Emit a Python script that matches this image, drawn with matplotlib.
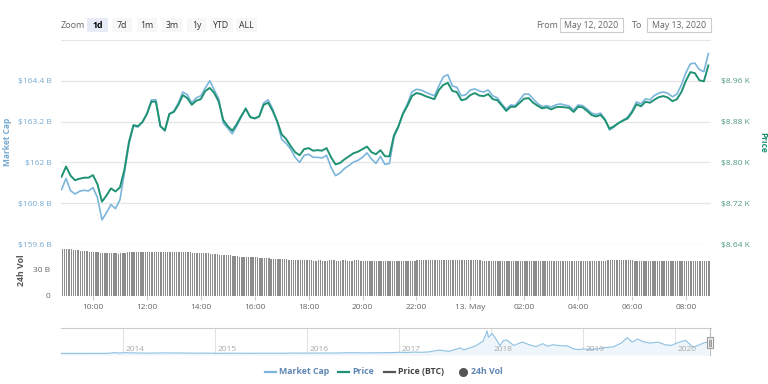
import numpy as np
import matplotlib
matplotlib.use('Agg')
import matplotlib.pyplot as plt
from matplotlib.patches import Rectangle
from matplotlib.lines import Line2D
import pandas as pd

plt.rcParams['font.family'] = ['Open Sans', 'DejaVu Sans']

# ---------------- data ----------------
start_hour = 8 + 50 / 60          # 12 May 08:50
price_step_h = 1 / 6              # 10 minutes
vol_step_h = 1 / 12               # 5 minutes

price = [8772, 8792, 8774, 8765, 8768, 8770, 8770, 8775, 8757, 8723,
         8735, 8749, 8743, 8751, 8786, 8840, 8873, 8871, 8879, 8895,
         8919, 8919, 8871, 8863, 8895, 8899, 8913, 8932, 8926, 8913,
         8921, 8924, 8940, 8946, 8936, 8919, 8883, 8871, 8862, 8875,
         8891, 8905, 8889, 8886, 8890, 8913, 8917, 8901, 8881, 8855,
         8846, 8832, 8820, 8814, 8826, 8828, 8823, 8824, 8823, 8828,
         8810, 8796, 8799, 8806, 8812, 8818, 8821, 8826, 8831, 8820,
         8816, 8824, 8812, 8812, 8853, 8871, 8895, 8911, 8930, 8936,
         8934, 8930, 8927, 8924, 8942, 8952, 8956, 8940, 8938, 8922,
         8924, 8932, 8936, 8931, 8930, 8934, 8924, 8922, 8912, 8901,
         8909, 8909, 8917, 8925, 8926, 8917, 8911, 8906, 8908, 8904,
         8908, 8909, 8908, 8907, 8899, 8909, 8908, 8901, 8893, 8890,
         8893, 8883, 8866, 8871, 8877, 8882, 8886, 8898, 8914, 8910,
         8919, 8917, 8923, 8928, 8930, 8927, 8920, 8924, 8938, 8960,
         8977, 8975, 8961, 8959, 8990]

market_cap = [161.20, 161.53, 161.17, 161.07, 161.15, 161.18, 161.16, 161.26, 160.96, 160.31,
              160.52, 160.76, 160.64, 160.90, 161.70, 162.53, 163.07, 163.04, 163.19, 163.42,
              163.84, 163.84, 163.07, 162.92, 163.42, 163.51, 163.75, 164.07, 163.99, 163.75,
              163.90, 163.96, 164.19, 164.40, 164.13, 163.87, 163.16, 163.01, 162.84, 163.07,
              163.33, 163.60, 163.33, 163.30, 163.35, 163.75, 163.84, 163.57, 163.19, 162.68,
              162.56, 162.39, 162.15, 162.00, 162.21, 162.24, 162.15, 162.15, 162.13, 162.21,
              161.85, 161.61, 161.69, 161.82, 161.91, 162.01, 162.06, 162.15, 162.28, 162.10,
              161.97, 162.18, 161.94, 161.97, 162.74, 163.04, 163.45, 163.72, 164.07, 164.15,
              164.13, 164.07, 164.01, 163.96, 164.25, 164.52, 164.58, 164.25, 164.21, 163.96,
              163.99, 164.13, 164.16, 164.10, 164.07, 164.13, 163.96, 163.90, 163.72, 163.57,
              163.69, 163.67, 163.84, 164.01, 164.01, 163.87, 163.73, 163.64, 163.67, 163.63,
              163.69, 163.72, 163.69, 163.66, 163.54, 163.69, 163.67, 163.57, 163.45, 163.41,
              163.45, 163.27, 162.95, 163.04, 163.16, 163.24, 163.33, 163.51, 163.78, 163.72,
              163.87, 163.84, 163.97, 164.04, 164.07, 164.03, 163.93, 164.01, 164.28, 164.64,
              164.90, 164.92, 164.73, 164.67, 165.20]

volume_24h = [52.2, 52.0, 52.1, 51.9, 51.7, 51.3,
              50.9, 50.7, 50.5, 50.3, 50.0, 49.7,
              49.3, 49.0, 48.8, 48.6, 48.4, 48.2, 48.1, 47.9,
              47.7, 47.5, 47.4, 47.3, 47.3, 47.2, 47.3,
              47.9, 48.3, 48.5,
              48.6, 48.6, 48.7, 48.7, 48.6, 48.6, 48.7, 48.7, 48.7, 48.6,
              48.6, 48.6, 48.7, 48.7, 48.7, 48.6, 48.6, 48.6, 48.6, 48.7,
              48.7, 48.6, 48.6, 48.6, 48.6, 48.5, 48.5, 48.5,
              47.6, 47.5, 47.5, 47.4, 47.4, 47.4, 47.3, 47.3, 47.2,
              46.6, 46.4, 46.2, 46.1, 46.0, 45.9, 45.8, 45.6, 45.3,
              44.4, 44.2, 44.0, 43.8, 43.6, 43.5, 43.4, 43.3, 43.2, 43.1, 43.0, 42.9,
              42.2, 42.0, 41.9, 41.8, 41.7, 41.6, 41.5, 41.4, 41.3, 41.2, 41.1, 41.0, 40.9,
              40.4, 40.3, 40.2, 40.1, 40.1, 40.0, 40.0, 39.9, 39.9,
              39.5, 39.5, 39.4, 39.4, 39.5, 39.5, 39.4, 39.4, 39.4, 39.5,
              39.5, 39.5, 39.4, 39.4, 39.4, 39.5, 39.5, 39.4, 39.4, 39.4,
              39.5, 39.5, 39.5, 39.4, 39.4, 39.3, 39.3, 39.4, 39.4, 39.3,
              39.3, 39.3, 39.2, 39.2,
              39.1, 39.1, 39.0, 39.0, 39.1, 39.1, 39.2, 39.2, 39.2, 39.3,
              39.3, 39.3, 39.4, 39.4, 39.5,
              39.6, 39.6, 39.7, 39.7, 39.6, 39.6, 39.7, 39.7, 39.7, 39.6,
              39.6, 39.6, 39.7, 39.7, 39.6, 39.6, 39.6, 39.7, 39.7, 39.6,
              39.6, 39.5, 39.5, 39.6, 39.6, 39.5, 39.5, 39.5, 39.4, 39.4,
              39.3, 39.3, 39.3, 39.2, 39.2, 39.3, 39.3, 39.3, 39.2, 39.2,
              39.3, 39.3, 39.3, 39.3, 39.2, 39.2, 39.2, 39.3, 39.3, 39.3,
              39.2, 39.2, 39.2, 39.3, 39.3, 39.3, 39.2, 39.2, 39.3, 39.3,
              39.3, 39.2, 39.2, 39.2, 39.3, 39.3, 39.3, 39.2, 39.2, 39.2,
              39.3, 39.3, 39.3, 39.2, 39.2, 39.3, 39.3, 39.3, 39.2, 39.2,
              39.3, 39.3, 39.3, 39.4, 39.5, 39.7, 39.9,
              40.2, 40.3, 40.4, 40.5, 40.5, 40.4, 40.3, 40.2, 40.0,
              39.1, 39.0, 39.0, 39.0, 39.1, 39.1, 39.1, 39.0, 39.0, 39.0,
              39.1, 39.1, 39.1, 39.0, 39.0, 39.0, 39.1, 39.1, 39.0, 39.0,
              39.0, 39.1, 39.1, 39.1, 39.0, 39.0, 39.0, 39.1, 39.1, 39.1,
              39.0, 39.0, 39.1, 39.1]

time_ticks = [10, 12, 14, 16, 18, 20, 22, 24, 26, 28, 30, 32]
time_labels = ['10:00', '12:00', '14:00', '16:00', '18:00', '20:00',
               '22:00', '13. May', '02:00', '04:00', '06:00', '08:00']

mcap_ticks = [159.6, 160.8, 162.0, 163.2, 164.4]
mcap_labels = ['$159.6 B', '$160.8 B', '$162 B', '$163.2 B', '$164.4 B']
price_ticks = [8640, 8720, 8800, 8880, 8960]
price_labels = ['$8.64 K', '$8.72 K', '$8.80 K', '$8.88 K', '$8.96 K']
vol_ticks = [0, 30]
vol_labels = ['0', '30 B']

nav_dates = ['2013-04-28', '2013-06-01', '2013-07-01', '2013-08-01', '2013-09-01', '2013-10-01',
             '2013-11-01', '2013-11-30', '2013-12-18', '2014-01-05', '2014-02-01', '2014-03-01',
             '2014-04-10', '2014-05-01', '2014-06-03', '2014-07-01', '2014-08-01', '2014-09-01',
             '2014-10-01', '2014-11-01', '2014-12-01', '2015-01-14', '2015-02-01', '2015-03-01',
             '2015-04-01', '2015-05-01', '2015-06-01', '2015-07-01', '2015-08-01', '2015-09-01',
             '2015-10-01', '2015-11-04', '2015-12-01', '2016-01-01', '2016-02-01', '2016-03-01',
             '2016-04-01', '2016-05-01', '2016-06-17', '2016-07-01', '2016-08-01', '2016-09-01',
             '2016-10-01', '2016-11-01', '2016-12-01', '2017-01-04', '2017-02-01', '2017-03-03',
             '2017-04-01', '2017-05-01', '2017-05-25', '2017-06-11', '2017-07-16', '2017-08-01',
             '2017-09-01', '2017-09-15', '2017-10-01', '2017-11-01', '2017-12-01', '2017-12-17',
             '2017-12-22', '2018-01-06', '2018-01-20', '2018-02-06', '2018-02-20', '2018-03-05',
             '2018-04-01', '2018-05-05', '2018-06-01', '2018-06-29', '2018-07-25', '2018-08-14',
             '2018-09-04', '2018-10-01', '2018-11-01', '2018-11-25', '2018-12-15', '2019-01-01',
             '2019-02-07', '2019-03-01', '2019-04-02', '2019-05-01', '2019-06-01', '2019-06-26',
             '2019-07-16', '2019-08-06', '2019-08-29', '2019-09-24', '2019-10-26', '2019-11-25',
             '2019-12-18', '2020-01-14', '2020-02-13', '2020-03-12', '2020-03-31', '2020-04-29',
             '2020-05-13']
nav_mcap = [1.5, 1.4, 1.0, 1.2, 1.7, 1.5,
            2.4, 12.5, 6.5, 11, 10, 7,
            4.5, 5.5, 8.3, 8, 7.6, 6.5,
            5.0, 4.4, 5.2, 2.4, 3.2, 3.6,
            3.5, 3.3, 3.2, 3.8, 4.2, 3.4,
            3.5, 6.5, 5.4, 6.5, 5.6, 6.7,
            6.4, 7, 11.5, 10.5, 9.2, 9.3,
            9.8, 11.7, 12.4, 18, 15.5, 20.5,
            17.6, 23, 40, 49, 31, 45,
            80, 53, 72, 108, 180, 326,
            235, 290, 215, 115, 190, 195,
            116, 166, 128, 100, 142, 106,
            127, 114, 110, 65, 57, 66,
            60, 67, 87, 95, 150, 230,
            165, 210, 170, 150, 165, 125,
            118, 160, 190, 90, 116, 160,
            160]
nav_years = [2014, 2015, 2016, 2017, 2018, 2019, 2020]

zoom_buttons = ['1d', '7d', '1m', '3m', '1y', 'YTD', 'ALL']
date_from, date_to = 'May 12, 2020', 'May 13, 2020'
legend_names = ['Market Cap', 'Price', 'Price (BTC)', '24h Vol']

# ---------------- style ----------------
W, H = 768, 384
C_MCAP = '#7cb5dc'
C_PRICE = '#1f9273'
C_MCAP_TXT = '#76a9d0'
C_PRICE_TXT = '#4f9a80'
C_GRID = '#e6e6e6'
C_BAR = '#8c8c8c'
C_TXT = '#666666'

fig = plt.figure(figsize=(W / 100, H / 100), dpi=100)


def rect(x0, y0, x1, y1):
    return [x0 / W, 1 - y1 / H, (x1 - x0) / W, (y1 - y0) / H]


def fx(x):
    return x / W


def fy(y):
    return 1 - y / H


X0, X1 = 61, 711
px_per_h = 26.95
t_left = 10 - (93 - X0) / px_per_h
t_right = t_left + (X1 - X0) / px_per_h

# main price / market-cap axes
ax = fig.add_axes(rect(X0, 40, X1, 244))
ax2 = ax.twinx()
for a in (ax, ax2):
    for s in a.spines.values():
        s.set_visible(False)
    a.set_xlim(t_left, t_right)
    a.set_xticks([])
ax.set_ylim(159.6, 165.6)
ax2.set_ylim(8640, 9040)
for v in mcap_ticks + [165.6]:
    ax.axhline(v, color=C_GRID, lw=0.9, zorder=0)
ax.set_yticks(mcap_ticks, mcap_labels)
ax.tick_params(axis='y', length=0, pad=6.5, labelsize=6, labelcolor=C_MCAP_TXT)
ax2.set_yticks(price_ticks, price_labels)
ax2.tick_params(axis='y', length=0, pad=7.5, labelsize=6, labelcolor=C_PRICE_TXT)

t_price = start_hour + np.arange(len(price)) * price_step_h
t_mcap = start_hour + np.arange(len(market_cap)) * price_step_h
ax.plot(t_mcap, market_cap, color=C_MCAP, lw=1.2, zorder=3)
ax2.plot(t_price, price, color=C_PRICE, lw=1.4, zorder=4)

fig.text(fx(8), fy(142), 'Market Cap', rotation=90, ha='center', va='center',
         fontsize=6, fontweight='bold', color=C_MCAP_TXT)
fig.text(fx(763), fy(142), 'Price', rotation=270, ha='center', va='center',
         fontsize=6, fontweight='bold', color=C_PRICE)

# volume axes
axv = fig.add_axes(rect(X0, 244, X1, 296))
for s in axv.spines.values():
    s.set_visible(False)
t_vol = start_hour + np.arange(len(volume_24h)) * vol_step_h
axv.bar(t_vol, volume_24h, width=vol_step_h * 0.6, color=C_BAR, align='edge', lw=0)
axv.set_xlim(t_left, t_right)
axv.set_ylim(0, 57.8)
axv.set_yticks(vol_ticks, vol_labels)
axv.tick_params(axis='y', length=0, pad=8, labelsize=6, labelcolor=C_TXT)
axv.set_xticks(time_ticks, time_labels)
axv.tick_params(axis='x', length=3, width=0.8, color='#cccccc', pad=2.5,
                labelsize=6, labelcolor=C_TXT)
fig.text(fx(22), fy(270), '24h Vol', rotation=90, ha='center', va='center',
         fontsize=6.3, fontweight='bold', color='#555555')

# navigator
axn = fig.add_axes(rect(X0, 328, X1, 355))
for k, s in axn.spines.items():
    s.set_visible(k == 'top')
axn.spines['top'].set_color('#cccccc')
axn.spines['top'].set_linewidth(0.8)
nd = pd.to_datetime(nav_dates)
nav_x = nd.year + (nd.dayofyear - 1) / 365.25
axn.set_xlim(2014 - (123 - X0) / 92.0, 2014 + (X1 - 123) / 92.0)
axn.set_ylim(-22, 370)
axn.fill_between(nav_x, nav_mcap, -22, color='#eef5fb', lw=0)
axn.plot(nav_x, nav_mcap, color='#8cc0e2', lw=0.8)
for yr in nav_years:
    axn.axvline(yr, color='#e3e3e3', lw=0.8, zorder=0)
    axn.text(yr + 0.03, 0.2, str(yr), transform=axn.get_xaxis_transform(),
             fontsize=6, color='#a8a8a8', va='center', ha='left')
axn.set_xticks([])
axn.set_yticks([])
fig.add_artist(Line2D([fx(710), fx(710)], [fy(328), fy(355)], color='#bbbbbb', lw=0.8))
fig.add_artist(Rectangle((fx(707), fy(348)), 6 / W, 11 / H, facecolor='#f4f4f4',
                         edgecolor='#999999', lw=0.8, transform=fig.transFigure))
for xx in (709.2, 710.8):
    fig.add_artist(Line2D([fx(xx), fx(xx)], [fy(340), fy(345.5)], color='#888888', lw=0.6))

# header: zoom buttons
fig.text(fx(61), fy(25), 'Zoom', fontsize=6.5, color=C_TXT, ha='left', va='center')
btn_x = [(87, 108), (112, 132), (137, 157), (162, 182), (187, 207), (210, 233), (236, 257)]
for i, (name, (a0, a1)) in enumerate(zip(zoom_buttons, btn_x)):
    sel = (i == 0)
    fig.add_artist(Rectangle((fx(a0), fy(32)), (a1 - a0) / W, 14 / H,
                             facecolor='#e6ebf5' if sel else '#f7f7f7', edgecolor='none',
                             transform=fig.transFigure))
    fig.text(fx((a0 + a1) / 2), fy(25), name, fontsize=6.3, ha='center', va='center',
             color='#000000' if sel else '#333333', fontweight='bold' if sel else 'normal')

fig.text(fx(536), fy(25), 'From', fontsize=6.5, color=C_TXT, ha='left', va='center')
fig.text(fx(632), fy(25), 'To', fontsize=6.5, color=C_TXT, ha='left', va='center')
for (b0, b1), txt in zip([(560, 623), (647, 711)], [date_from, date_to]):
    fig.add_artist(Rectangle((fx(b0), fy(32)), (b1 - b0) / W, 14 / H, facecolor='white',
                             edgecolor='#cccccc', lw=0.8, transform=fig.transFigure))
    fig.text(fx((b0 + b1) / 2), fy(25), txt, fontsize=6.3, ha='center', va='center', color=C_TXT)

# legend
LY = 372
leg_specs = [(265, C_MCAP, '#5f86b3'), (338, C_PRICE, '#5f86b3'),
             (384, '#555555', '#444444'), (460, None, '#5f86b3')]
for name, (lx, lc, tc) in zip(legend_names, leg_specs):
    if lc is not None:
        fig.add_artist(Line2D([fx(lx), fx(lx + 11)], [fy(LY), fy(LY)], color=lc, lw=1.6))
        tx = lx + 14
    else:
        fig.add_artist(Line2D([fx(lx + 3)], [fy(LY)], marker='o', markersize=5.5,
                              color='#555555', lw=0))
        tx = lx + 11
    fig.text(fx(tx), fy(LY), name, fontsize=6.3, fontweight='bold', color=tc,
             ha='left', va='center')

fig.savefig('out.png', dpi=100)
